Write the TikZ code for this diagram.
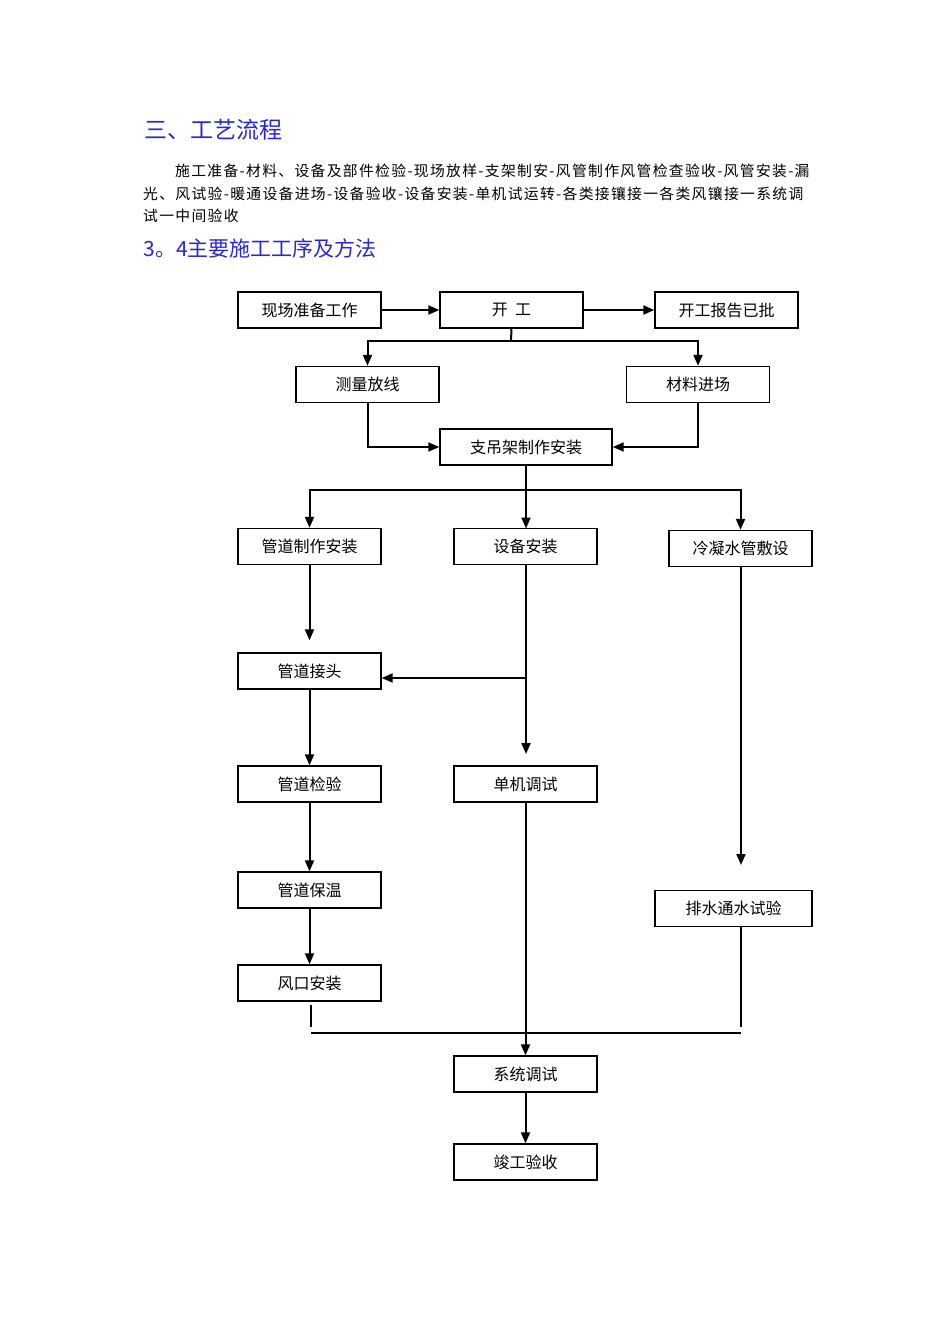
\documentclass[tikz,border=0pt]{standalone}
\usepackage{fontspec}
\setmainfont{Noto Sans CJK SC}
\newfontfamily\para[LetterSpace=9]{Noto Sans CJK SC}
\usetikzlibrary{arrows.meta}
\definecolor{hblue}{RGB}{40,40,210}
\begin{document}
\begin{tikzpicture}[x=1pt,y=-1pt,
  box/.style={draw,line width=1.4pt,minimum width=143pt,minimum height=36pt,inner sep=0pt,font=\fontsize{16}{16}\selectfont},
  ln/.style={line width=2pt},
  ar/.style={ln,-{Triangle[length=11pt,width=9pt]}}]
\useasboundingbox (0,0) rectangle (950,1344);
\node[anchor=west,text=hblue,font=\fontsize{23}{23}\selectfont] (t1) at (141,130) {三、工艺流程};
\node[anchor=west,font=\para\fontsize{14.8}{14.8}\selectfont,inner sep=0pt] (p1) at (175,171) {施工准备-材料、设备及部件检验-现场放样-支架制安-风管制作风管检查验收-风管安装-漏};
\node[anchor=west,font=\para\fontsize{14.8}{14.8}\selectfont,inner sep=0pt] (p2) at (143,194) {光、风试验-暖通设备进场-设备验收-设备安装-单机试运转-各类接镶接一各类风镶接一系统调};
\node[anchor=west,font=\para\fontsize{14.8}{14.8}\selectfont,inner sep=0pt] (p3) at (143,216) {试一中间验收};
\node[anchor=west,text=hblue,font=\fontsize{21}{21}\selectfont] (t2) at (140,248) {3。4主要施工工序及方法};

\node[box] (xc) at (309.5,310) {现场准备工作};
\node[box] (kg) at (511.5,310) {开\ \ 工};
\node[box] (bg) at (726.5,310) {开工报告已批};
\node[box] (cl) at (367.5,384.5) {测量放线};
\node[box] (cj) at (698,384.5) {材料进场};
\node[box,minimum width=172pt] (zd) at (526,447) {支吊架制作安装};
\node[box] (gz) at (309.5,546.5) {管道制作安装};
\node[box] (sb) at (525.5,546.5) {设备安装};
\node[box] (ln) at (740.5,548.5) {冷凝水管敷设};
\node[box] (jt) at (309.5,671) {管道接头};
\node[box] (jy) at (309.5,784) {管道检验};
\node[box] (dj) at (525.5,784) {单机调试};
\node[box] (bw) at (309.5,890) {管道保温};
\node[box,minimum width=157pt] (ps) at (733.5,908.5) {排水通水试验};
\node[box] (fk) at (309.5,983) {风口安装};
\node[box] (xt) at (525.5,1074) {系统调试};
\node[box] (jg) at (525.5,1162) {竣工验收};

\coordinate (k1) at (511,341);
\draw[ar] (xc) -- (kg);
\draw[ar] (kg) -- (bg);
\draw[ln] (kg.south) -- (k1);
\draw[ar] (k1) -| (cl.north);
\draw[ar] (k1) -| (cj.north);
\draw[ar] (cl.south) |- (zd.west);
\draw[ar] (cj.south) |- (zd.east);
\coordinate (k2) at (526,490);
\draw[ln] (zd.south) -- (k2);
\draw[ar] (k2) -| (gz.north);
\draw[ar] (k2) -- (526,528.5);
\draw[ar] (k2) -| (ln.north);
\draw[ar,shorten >=12pt] (gz) -- (jt);
\draw[ar,shorten >=12pt] (526,564.5) -- (526,766);
\coordinate (k3) at (526,678);
\draw[ar] (k3) -- (jt.east |- k3);
\draw[ar] (jt) -- (jy);
\draw[ar] (jy) -- (bw);
\draw[ar] (bw) -- (fk);
\draw[ar,shorten >=25pt] (741,566.5) -- (741,890);
\draw[ar] (dj) -- (xt);
\draw[ar] (xt) -- (jg);
\coordinate (k4) at (311,1027);
\coordinate (k5) at (741,1027);
\draw[ln] (311,1005) -- (k4);
\draw[ln] (741,927) -- (k5);
\draw[line width=1.2pt] (311,1033) -- (741,1033);
\end{tikzpicture}
\end{document}
